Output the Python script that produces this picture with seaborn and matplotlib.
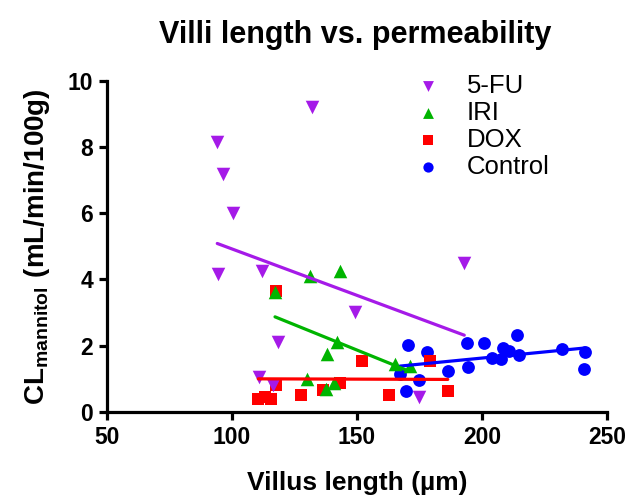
import matplotlib
matplotlib.use("Agg")
import numpy as np
import pandas as pd
import matplotlib.pyplot as plt
import seaborn as sns

# values
fu_x = [94.1, 96.5, 100.3, 94.5, 111.9, 118.4, 110.9, 116.5, 149.2, 192.9, 174.8, 132.0]
fu_y = [8.14, 7.17, 6.00, 4.16, 4.26, 2.11, 1.06, 0.80, 3.01, 4.51, 0.45, 9.20]

iri_x = [117.2, 131.2, 143.2, 141.9, 138.1, 165.2, 171.0, 129.9, 140.9, 137.6]
iri_y = [3.61, 4.11, 4.26, 2.11, 1.76, 1.46, 1.38, 1.01, 0.86, 0.69]

dox_x = [110.5, 113.0, 115.5, 117.6, 117.6, 127.6, 136.5, 143.2, 151.9, 179.3, 162.9, 186.3]
dox_y = [0.38, 0.45, 0.38, 3.66, 0.81, 0.51, 0.66, 0.88, 1.54, 1.53, 0.51, 0.62]

ctrl_x = [170.3, 178.1, 167.2, 174.8, 169.5, 186.4, 194.5, 194.1, 200.8, 204.1,
          207.5, 208.5, 210.8, 214.1, 214.7, 232.1, 241.2, 240.9]
ctrl_y = [2.01, 1.82, 1.15, 0.98, 0.64, 1.23, 1.35, 2.08, 2.08, 1.63,
          1.61, 1.94, 1.84, 2.31, 1.71, 1.89, 1.81, 1.29]

groups = ["Control", "DOX", "IRI", "5-FU"]
xs = [ctrl_x, dox_x, iri_x, fu_x]
ys = [ctrl_y, dox_y, iri_y, fu_y]
cols = ["#0000FF", "#FF0000", "#00B400", "#A51AE8"]
marks = ["o", "s", "^", "v"]
sizes = [85, 70, 95, 95]

sns.set_style("ticks")
plt.rcParams["font.family"] = ["Liberation Sans", "DejaVu Sans"]
plt.rcParams["mathtext.fontset"] = "custom"
plt.rcParams["mathtext.bf"] = "Liberation Sans:bold"
plt.rcParams["mathtext.rm"] = "Liberation Sans"
for k in ["text.color", "axes.labelcolor", "xtick.color", "ytick.color", "axes.edgecolor"]:
    plt.rcParams[k] = "black"

fig = plt.figure(figsize=(6.28, 4.95), dpi=100)
ax = fig.add_axes([0.1704, 0.1677, 0.7962, 0.6693])

for g, x, y, c, m, s in zip(groups, xs, ys, cols, marks, sizes):
    df = pd.DataFrame({"x": x, "y": y})
    sns.regplot(data=df, x="x", y="y", ax=ax, ci=None, marker=m, color=c,
                label=g, truncate=True,
                scatter_kws={"s": s, "linewidths": 0, "alpha": 1},
                line_kws={"lw": 2.3})

ax.set_xlim(50, 250)
ax.set_ylim(0, 10)
ax.set_xticks([50, 100, 150, 200, 250])
ax.set_yticks([0, 2, 4, 6, 8, 10])
sns.despine(ax=ax)
for sp in ["left", "bottom"]:
    ax.spines[sp].set_linewidth(2.3)
ax.tick_params(length=6, width=2.3, labelsize=16.5, pad=4)
for t in ax.get_xticklabels() + ax.get_yticklabels():
    t.set_fontweight("bold")

ax.set_xlabel("Villus length (µm)", fontsize=19, fontweight="bold", labelpad=16)
ax.set_ylabel(r"$\mathbf{CL_{mannitol}\ (mL/min/100g)}$", fontsize=20, labelpad=11)
fig.suptitle("Villi length vs. permeability", fontsize=22, fontweight="bold",
             x=0.566, y=0.96)

h, l = ax.get_legend_handles_labels()
ax.legend(h[::-1], l[::-1], loc="upper left", bbox_to_anchor=(0.57, 1.09),
          frameon=False, fontsize=18.5, handlelength=1.0, handletextpad=1.0,
          labelspacing=0.12, markerscale=0.8)

fig.savefig("out.png", dpi=100)
